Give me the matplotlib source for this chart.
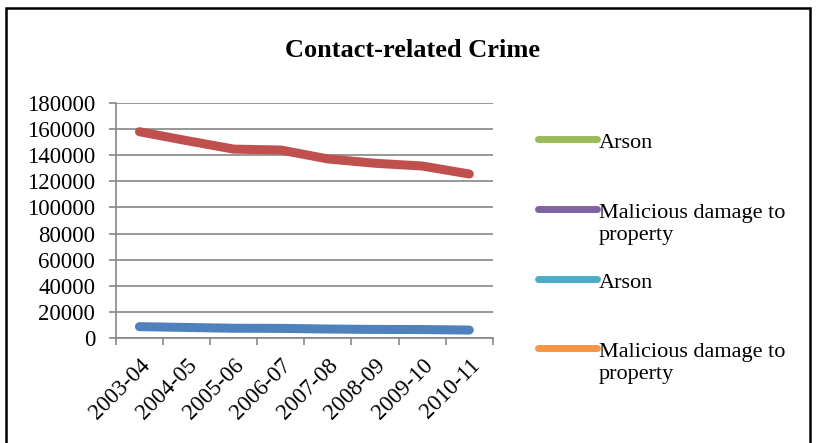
import numpy as np
import matplotlib.pyplot as plt
import matplotlib.transforms as mtransforms
from matplotlib.lines import Line2D
from matplotlib.patches import Rectangle
from matplotlib.legend_handler import HandlerLine2D

years = ["2003-04", "2004-05", "2005-06", "2006-07",
         "2007-08", "2008-09", "2009-10", "2010-11"]
red_vals = [157800, 151000, 144500, 143800, 137000, 133700, 131600, 125500]
blue_vals = [8900, 8300, 7700, 7600, 7100, 6800, 6700, 6300]

legend_labels = ["Arson", "Malicious damage to\nproperty",
                 "Arson", "Malicious damage to\nproperty"]
legend_colors = ["#9BBB59", "#8064A2", "#4BACC6", "#F79646"]


class TopLine(HandlerLine2D):
    # puts the legend line next to the first line of text
    def create_artists(self, legend, orig_handle, xdescent, ydescent,
                       width, height, fontsize, trans):
        arts = super().create_artists(legend, orig_handle, xdescent, ydescent,
                                      width, height, fontsize, trans)
        for a in arts:
            a.set_ydata(np.asarray(a.get_ydata()) + 10.5)
        return arts


plt.rcParams["font.family"] = ["Liberation Serif", "DejaVu Serif"]
fs = 16.5
lfs = 16

fig = plt.figure(figsize=(8.16, 4.43), dpi=100)
ax = fig.add_axes([0.142, 0.2363, 0.462, 0.532])

xs = [i + 0.5 for i in range(len(years))]
ax.plot(xs, red_vals, color="#C0504D", lw=6.5, solid_capstyle="round",
        solid_joinstyle="round")
ax.plot(xs, blue_vals, color="#4F81BD", lw=6.5, solid_capstyle="round",
        solid_joinstyle="round")

ax.set_xlim(0, len(years))
ax.set_ylim(0, 180000)
ax.set_yticks(range(0, 180001, 20000))
ax.yaxis.grid(True, color="#868686", lw=1.2)
ax.set_axisbelow(True)

ax.set_xticks(range(len(years) + 1))
ax.set_xticklabels([])
ax.set_xticks(xs, minor=True)
ax.set_xticklabels(years, minor=True, rotation=45, ha="right",
                   rotation_mode="anchor", fontsize=fs)
ax.tick_params(axis="x", which="minor", length=0, pad=12)
ax.tick_params(axis="x", which="major", length=5, color="#868686", width=1.2)
ax.tick_params(axis="y", length=5, color="#868686", width=1.2,
               labelsize=fs, pad=10)

for s in ["top", "right"]:
    ax.spines[s].set_visible(False)
for s in ["left", "bottom"]:
    ax.spines[s].set_color("#868686")
    ax.spines[s].set_linewidth(1.2)

fig.text(0.506, 0.885, "Contact-related Crime", ha="center", va="center",
         fontsize=19, fontweight="bold")

handles = [Line2D([], [], color=c, lw=5, solid_capstyle="round")
           for c in legend_colors]
labels = [l if "\n" in l else l + "\n" for l in legend_labels]
fig.legend(handles, labels, loc="upper left",
           bbox_to_anchor=(0.659, 0.697), frameon=False, fontsize=lfs,
           handlelength=2.65, handletextpad=0.1, labelspacing=1.3,
           borderpad=0, borderaxespad=0,
           handler_map={Line2D: TopLine()})

fig.patches.append(Rectangle((0.007, -0.05), 0.986, 1.032,
                             transform=fig.transFigure, fill=False,
                             edgecolor="black", lw=1.8))

fig.savefig("out.png", dpi=100)
